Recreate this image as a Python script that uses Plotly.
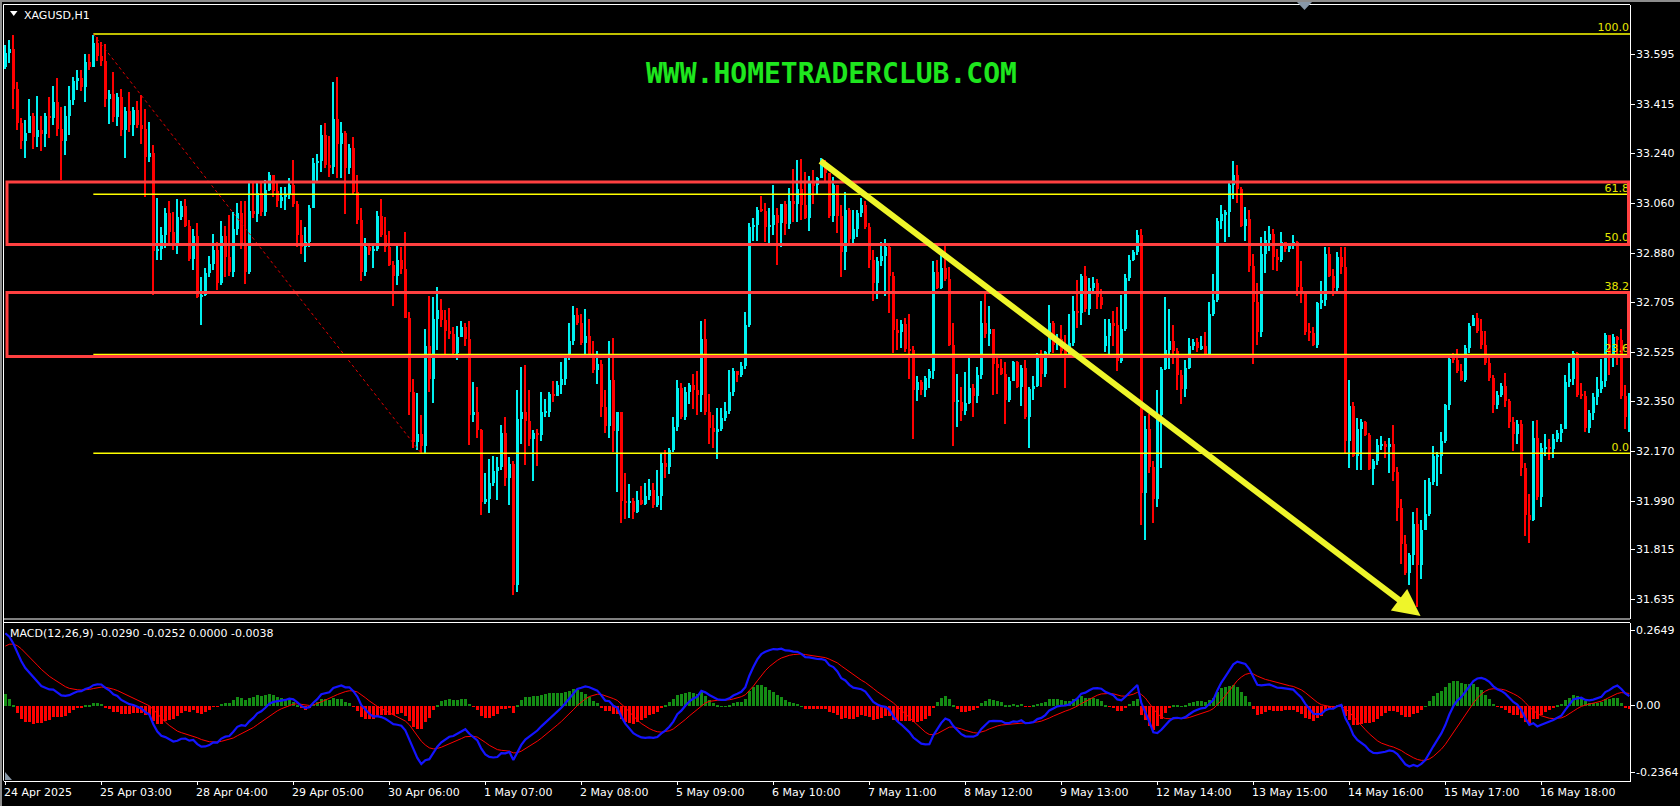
import numpy as np
import plotly.graph_objects as go

# ---- hourly XAGUSD candles (bar 0 = 24 Apr 2025, one bar per trading hour) ----
closes = [
    33.603, 33.617, 33.472, 33.352, 33.286, 33.317, 33.375, 33.300, 33.326, 33.310,
    33.378, 33.370, 33.428, 33.330, 33.288, 33.378, 33.434, 33.503, 33.513, 33.479,
    33.571, 33.552, 33.640, 33.593, 33.575, 33.437, 33.455, 33.373, 33.444, 33.327,
    33.393, 33.345, 33.398, 33.345, 33.331, 33.230, 33.244, 32.893, 32.900, 32.948,
    33.027, 32.958, 32.916, 33.014, 33.054, 32.980, 32.862, 32.945, 32.727, 32.734,
    32.813, 32.845, 32.895, 32.776, 32.945, 32.870, 32.817, 32.969, 33.028, 32.920,
    32.817, 33.035, 33.024, 33.100, 33.030, 33.110, 33.166, 33.106, 33.072, 33.086,
    33.093, 33.127, 33.060, 32.950, 32.907, 32.923, 33.045, 33.207, 33.215, 33.309,
    33.199, 33.193, 33.367, 33.275, 33.316, 33.190, 33.262, 33.102, 33.003, 32.817,
    32.907, 32.893, 32.900, 33.017, 32.948, 32.904, 32.840, 32.800, 32.858, 32.827,
    32.652, 32.386, 32.204, 32.234, 32.190, 32.551, 32.431, 32.645, 32.679, 32.642,
    32.603, 32.592, 32.524, 32.583, 32.617, 32.575, 32.303, 32.314, 32.248, 31.990,
    31.999, 32.059, 32.100, 32.114, 32.238, 32.077, 32.124, 31.691, 32.289, 32.314,
    32.280, 32.217, 32.238, 32.231, 32.311, 32.314, 32.376, 32.370, 32.410, 32.430,
    32.507, 32.569, 32.661, 32.631, 32.562, 32.587, 32.520, 32.462, 32.486, 32.330,
    32.262, 32.427, 32.245, 32.311, 31.994, 31.986, 31.994, 31.953, 31.997, 31.980,
    32.010, 32.031, 31.977, 32.010, 32.128, 32.114, 32.176, 32.259, 32.400, 32.293,
    32.386, 32.410, 32.390, 32.372, 32.576, 32.311, 32.256, 32.242, 32.250, 32.290,
    32.317, 32.386, 32.460, 32.445, 32.479, 32.624, 32.978, 32.983, 33.038, 33.035,
    32.976, 32.985, 33.020, 32.992, 33.061, 32.990, 33.072, 33.060, 33.113, 33.058,
    33.010, 33.134, 33.127, 33.155, 33.199, 33.170, 33.017, 33.127, 33.017, 32.886,
    33.037, 32.934, 32.969, 33.028, 33.055, 32.978, 32.858, 32.776, 32.855, 32.872,
    32.904, 32.803, 32.606, 32.600, 32.628, 32.540, 32.535, 32.393, 32.421, 32.390,
    32.435, 32.459, 32.817, 32.758, 32.830, 32.790, 32.555, 32.349, 32.350, 32.317,
    32.344, 32.400, 32.369, 32.445, 32.631, 32.592, 32.610, 32.486, 32.469, 32.450,
    32.355, 32.424, 32.493, 32.404, 32.472, 32.293, 32.394, 32.407, 32.507, 32.449,
    32.527, 32.631, 32.555, 32.575, 32.532, 32.520, 32.560, 32.675, 32.670, 32.803,
    32.683, 32.757, 32.776, 32.725, 32.697, 32.587, 32.631, 32.624, 32.496, 32.610,
    32.794, 32.858, 32.889, 32.950, 32.022, 32.252, 32.114, 31.999, 32.303, 32.468,
    32.537, 32.569, 32.532, 32.445, 32.394, 32.472, 32.548, 32.565, 32.541, 32.548,
    32.520, 32.665, 32.716, 33.000, 33.024, 33.030, 33.127, 33.166, 33.113, 32.982,
    33.006, 32.838, 32.707, 32.600, 32.879, 32.932, 32.951, 32.868, 32.859, 32.923,
    32.900, 32.914, 32.923, 32.762, 32.742, 32.600, 32.598, 32.555, 32.703, 32.716,
    32.882, 32.803, 32.758, 32.868, 32.835, 32.210, 32.334, 32.155, 32.252, 32.275,
    32.231, 32.107, 32.135, 32.193, 32.197, 32.187, 32.197, 32.096, 31.967, 31.838,
    31.734, 31.798, 31.909, 31.762, 31.890, 31.947, 32.061, 32.154, 32.155, 32.208,
    32.336, 32.503, 32.500, 32.460, 32.427, 32.541, 32.621, 32.650, 32.603, 32.553,
    32.488, 32.436, 32.339, 32.375, 32.407, 32.353, 32.275, 32.232, 32.271, 32.110,
    31.943, 31.923, 32.218, 32.008, 32.182, 32.185, 32.180, 32.214, 32.236, 32.250,
    32.422, 32.432, 32.524, 32.375, 32.370, 32.254, 32.310, 32.367, 32.396, 32.424,
    32.588, 32.517, 32.581, 32.570, 32.370, 32.296, 32.345,
]
highs = [
    33.630, 33.651, 33.667, 33.499, 33.368, 33.361, 33.437, 33.389, 33.447, 33.375,
    33.389, 33.444, 33.483, 33.513, 33.410, 33.414, 33.485, 33.516, 33.541, 33.543,
    33.598, 33.598, 33.669, 33.662, 33.644, 33.637, 33.469, 33.534, 33.458, 33.472,
    33.410, 33.461, 33.410, 33.430, 33.451, 33.403, 33.355, 33.272, 33.083, 32.976,
    33.045, 33.072, 33.031, 33.079, 33.072, 33.079, 33.003, 32.969, 32.992, 32.799,
    32.831, 32.872, 32.952, 32.923, 33.000, 32.982, 33.020, 33.031, 33.065, 33.072,
    33.072, 33.134, 33.134, 33.134, 33.134, 33.148, 33.175, 33.162, 33.134, 33.120,
    33.120, 33.155, 33.217, 33.072, 33.003, 32.976, 33.058, 33.226, 33.240, 33.345,
    33.350, 33.306, 33.499, 33.516, 33.355, 33.323, 33.276, 33.300, 33.166, 33.047,
    32.937, 32.920, 32.920, 33.035, 33.079, 33.014, 32.962, 32.854, 32.920, 32.907,
    32.959, 32.672, 32.431, 32.380, 32.303, 32.610, 32.730, 32.727, 32.762, 32.717,
    32.679, 32.686, 32.617, 32.620, 32.638, 32.631, 32.638, 32.422, 32.404, 32.252,
    32.094, 32.142, 32.156, 32.152, 32.266, 32.294, 32.152, 32.135, 32.390, 32.473,
    32.482, 32.390, 32.248, 32.252, 32.383, 32.358, 32.383, 32.424, 32.424, 32.493,
    32.521, 32.634, 32.693, 32.686, 32.666, 32.683, 32.645, 32.569, 32.532, 32.500,
    32.390, 32.569, 32.579, 32.314, 32.314, 32.094, 32.052, 32.004, 32.027, 32.045,
    32.059, 32.073, 32.059, 32.105, 32.163, 32.176, 32.183, 32.294, 32.427, 32.418,
    32.404, 32.418, 32.449, 32.459, 32.638, 32.645, 32.376, 32.300, 32.328, 32.328,
    32.349, 32.463, 32.470, 32.460, 32.493, 32.672, 32.992, 33.010, 33.051, 33.089,
    33.065, 33.045, 33.127, 33.047, 33.061, 33.070, 33.116, 33.185, 33.217, 33.221,
    33.175, 33.162, 33.182, 33.157, 33.226, 33.220, 33.162, 33.157, 33.127, 33.058,
    33.102, 33.047, 33.038, 33.038, 33.083, 33.072, 32.992, 32.896, 32.868, 32.923,
    32.934, 32.918, 32.817, 32.645, 32.642, 32.652, 32.666, 32.551, 32.441, 32.427,
    32.441, 32.466, 32.854, 32.858, 32.893, 32.920, 32.835, 32.634, 32.449, 32.404,
    32.455, 32.507, 32.413, 32.473, 32.711, 32.739, 32.693, 32.606, 32.510, 32.504,
    32.491, 32.438, 32.496, 32.496, 32.482, 32.500, 32.404, 32.441, 32.524, 32.537,
    32.532, 32.697, 32.638, 32.593, 32.624, 32.590, 32.666, 32.728, 32.786, 32.810,
    32.838, 32.794, 32.797, 32.790, 32.755, 32.645, 32.645, 32.675, 32.689, 32.734,
    32.810, 32.876, 32.896, 32.965, 32.969, 32.298, 32.307, 32.135, 32.390, 32.473,
    32.725, 32.683, 32.624, 32.542, 32.463, 32.500, 32.579, 32.576, 32.579, 32.587,
    32.601, 32.707, 32.807, 33.010, 33.056, 33.038, 33.141, 33.213, 33.199, 33.120,
    33.051, 33.038, 32.882, 32.776, 32.941, 32.962, 32.982, 32.969, 32.900, 32.959,
    32.923, 32.920, 32.948, 32.927, 32.854, 32.748, 32.634, 32.617, 32.707, 32.783,
    32.904, 32.904, 32.827, 32.886, 32.907, 32.904, 32.427, 32.349, 32.290, 32.287,
    32.280, 32.238, 32.142, 32.215, 32.225, 32.207, 32.218, 32.266, 32.114, 32.000,
    31.869, 31.805, 31.954, 31.969, 31.926, 32.068, 32.076, 32.190, 32.168, 32.239,
    32.342, 32.517, 32.524, 32.538, 32.484, 32.555, 32.631, 32.660, 32.669, 32.645,
    32.603, 32.517, 32.446, 32.389, 32.417, 32.453, 32.360, 32.293, 32.285, 32.282,
    32.128, 32.019, 32.279, 32.285, 32.200, 32.232, 32.214, 32.232, 32.246, 32.271,
    32.446, 32.488, 32.531, 32.527, 32.417, 32.389, 32.318, 32.382, 32.439, 32.503,
    32.595, 32.588, 32.592, 32.584, 32.610, 32.410, 32.380,
]
lows = [
    33.547, 33.568, 33.403, 33.327, 33.258, 33.224, 33.327, 33.258, 33.265, 33.251,
    33.265, 33.299, 33.345, 33.306, 33.148, 33.235, 33.309, 33.417, 33.469, 33.465,
    33.428, 33.543, 33.565, 33.575, 33.557, 33.410, 33.348, 33.355, 33.341, 33.306,
    33.224, 33.320, 33.306, 33.334, 33.276, 33.086, 33.210, 32.734, 32.858, 32.858,
    32.903, 32.920, 32.896, 32.879, 33.003, 32.976, 32.854, 32.824, 32.721, 32.624,
    32.730, 32.799, 32.824, 32.752, 32.769, 32.799, 32.800, 32.799, 32.948, 32.900,
    32.772, 32.810, 33.010, 32.996, 33.017, 33.017, 33.107, 33.086, 33.051, 33.045,
    33.038, 33.079, 33.051, 32.907, 32.879, 32.852, 32.907, 33.045, 33.144, 33.175,
    33.189, 33.157, 33.168, 33.155, 33.155, 33.024, 33.168, 33.093, 32.990, 32.785,
    32.803, 32.876, 32.831, 32.893, 32.941, 32.886, 32.838, 32.693, 32.769, 32.810,
    32.652, 32.300, 32.183, 32.176, 32.162, 32.163, 32.383, 32.345, 32.535, 32.617,
    32.521, 32.576, 32.521, 32.500, 32.583, 32.548, 32.193, 32.276, 32.218, 31.942,
    31.981, 31.949, 32.045, 31.997, 32.105, 32.045, 31.977, 31.653, 31.667, 32.197,
    32.121, 32.190, 32.066, 32.118, 32.207, 32.293, 32.293, 32.349, 32.383, 32.376,
    32.411, 32.500, 32.555, 32.624, 32.555, 32.521, 32.510, 32.452, 32.413, 32.293,
    32.238, 32.218, 32.170, 32.025, 31.915, 31.928, 31.931, 31.928, 31.949, 31.977,
    31.977, 31.997, 31.967, 31.972, 31.959, 32.077, 32.091, 32.170, 32.245, 32.287,
    32.284, 32.342, 32.325, 32.300, 32.311, 32.300, 32.197, 32.183, 32.142, 32.243,
    32.280, 32.307, 32.369, 32.420, 32.438, 32.466, 32.617, 32.927, 32.927, 33.031,
    32.923, 32.914, 32.948, 32.841, 32.907, 32.948, 32.969, 32.996, 32.996, 33.003,
    33.006, 32.962, 33.061, 33.093, 33.152, 33.140, 33.010, 32.996, 32.955, 32.799,
    32.824, 32.914, 32.920, 32.941, 33.014, 32.969, 32.831, 32.711, 32.717, 32.838,
    32.728, 32.670, 32.524, 32.537, 32.541, 32.528, 32.431, 32.215, 32.353, 32.372,
    32.366, 32.400, 32.431, 32.755, 32.755, 32.783, 32.551, 32.190, 32.259, 32.280,
    32.303, 32.342, 32.293, 32.344, 32.431, 32.579, 32.548, 32.372, 32.376, 32.445,
    32.270, 32.349, 32.425, 32.400, 32.335, 32.287, 32.183, 32.356, 32.404, 32.404,
    32.438, 32.521, 32.524, 32.535, 32.521, 32.400, 32.524, 32.548, 32.615, 32.624,
    32.672, 32.661, 32.739, 32.683, 32.683, 32.528, 32.521, 32.548, 32.459, 32.490,
    32.604, 32.785, 32.854, 32.876, 31.908, 31.853, 32.094, 31.912, 31.972, 32.110,
    32.463, 32.466, 32.486, 32.390, 32.342, 32.366, 32.466, 32.535, 32.528, 32.535,
    32.507, 32.510, 32.656, 32.707, 32.969, 32.923, 32.941, 33.079, 33.065, 32.976,
    32.927, 32.817, 32.486, 32.555, 32.583, 32.813, 32.890, 32.824, 32.821, 32.852,
    32.886, 32.886, 32.900, 32.730, 32.703, 32.590, 32.569, 32.551, 32.541, 32.683,
    32.693, 32.796, 32.730, 32.748, 32.810, 32.165, 32.110, 32.152, 32.105, 32.105,
    32.225, 32.105, 32.050, 32.121, 32.176, 32.146, 32.094, 32.066, 31.921, 31.766,
    31.727, 31.691, 31.762, 31.613, 31.712, 31.940, 31.940, 32.051, 32.047, 32.090,
    32.200, 32.318, 32.488, 32.453, 32.424, 32.422, 32.524, 32.624, 32.596, 32.538,
    32.481, 32.424, 32.310, 32.325, 32.368, 32.332, 32.254, 32.171, 32.197, 32.083,
    31.866, 31.841, 31.919, 31.997, 31.972, 32.154, 32.140, 32.147, 32.204, 32.204,
    32.254, 32.403, 32.410, 32.368, 32.360, 32.242, 32.236, 32.282, 32.339, 32.382,
    32.403, 32.446, 32.474, 32.481, 32.360, 32.251, 32.240,
]
first_open = 33.554
gap_opens = {275: 32.551}   # Monday 12 May opened below Friday's close

time_labels = ["24 Apr 2025", "25 Apr 03:00", "28 Apr 04:00", "29 Apr 05:00", "30 Apr 06:00",
               "1 May 07:00", "2 May 08:00", "5 May 09:00", "6 May 10:00", "7 May 11:00",
               "8 May 12:00", "9 May 13:00", "12 May 14:00", "13 May 15:00", "14 May 16:00",
               "15 May 17:00", "16 May 18:00"]
bars_per_label = 24

price_ticks = [33.595, 33.415, 33.240, 33.060, 32.880, 32.705, 32.525, 32.350,
               32.170, 31.990, 31.815, 31.635]
macd_ticks = [0.2649, 0.0, -0.2364]
macd_tick_text = ["0.2649", "0.00", "-0.2364"]

# fibonacci retracement drawn from the 25 Apr high to the 30 Apr low
fib_bars = [22, 104]
fib_prices = [33.669, 32.162]
fib_levels = [0.0, 23.6, 38.2, 50.0, 61.8, 100.0]
# red supply zones and the yellow trend arrow (bar, price)
zones = [(33.137, 32.913), (32.740, 32.510)]
arrow_start = (203.4, 33.217)
arrow_end = (353.8, 31.577)
# MACD(12,26,9) state carried in from the bars before the window
macd_seed = {"ema12": 33.52, "ema26": 33.25, "signal": 0.20}

# ---------------------------------------------------------------------------
W, H = 1680, 806
X_LEFT, X_RIGHT = 4, 1630          # pixel edges of the plotting area
BAR0_PX, BAR_PX = 5.33, 4.0        # bar 0 centre, pixel pitch
MAIN_TOP, MAIN_BOT = 4.5, 619.0
SUB_TOP, SUB_BOT = 622.5, 780.7


def px(x):
    return x / W


def py(y):
    return 1 - y / H


def bar_at(x):
    return (x - BAR0_PX) / BAR_PX


n = len(closes)
idx = np.arange(n)
c = np.array(closes)
o = np.concatenate([[first_open], c[:-1]])
for k, v in gap_opens.items():
    o[k] = v
h = np.maximum.reduce([np.array(highs), o, c])
lo = np.minimum.reduce([np.array(lows), o, c])

BULL, BEAR = "#00F0F0", "#FF0000"
col = np.where(c >= o, BULL, BEAR)
body_base = np.minimum(o, c)
body_h = np.maximum(np.abs(c - o), 0.0036)


def ema(seed, values, span):
    k = 2.0 / (span + 1)
    out, prev = [], seed
    for v in values:
        prev = prev + k * (v - prev)
        out.append(prev)
    return np.array(out)


macd = ema(macd_seed["ema12"], c, 12) - ema(macd_seed["ema26"], c, 26)
signal = ema(macd_seed["signal"], macd, 9)
hist = macd - signal

fig = go.Figure()

# fib level captions
fib_span = fib_prices[0] - fib_prices[1]
fib_vals = [fib_prices[1] + fib_span * lv / 100 for lv in fib_levels]
fig.add_trace(go.Scatter(
    x=[bar_at(X_RIGHT - 1)] * len(fib_levels), y=fib_vals, mode="text",
    text=["%.1f" % lv for lv in fib_levels], textposition="top left",
    textfont=dict(family="DejaVu Sans", size=11, color="#E6E600"),
    yaxis="y", hoverinfo="skip"))

# candles: wick + body
fig.add_trace(go.Bar(x=idx, y=h - lo, base=lo, width=0.25,
                     marker=dict(color=col, line=dict(width=0)), yaxis="y", hoverinfo="skip"))
fig.add_trace(go.Bar(x=idx, y=body_h, base=body_base, width=0.75,
                     marker=dict(color=col, line=dict(width=0)), yaxis="y", hoverinfo="skip"))

# MACD panel
fig.add_trace(go.Bar(x=idx, y=hist, width=0.75,
                     marker=dict(color=np.where(hist >= 0, "#148C14", "#FF0000"), line=dict(width=0)),
                     yaxis="y2", hoverinfo="skip"))
fig.add_trace(go.Scatter(x=idx, y=signal, mode="lines", line=dict(color="#FF0000", width=1),
                         yaxis="y2", hoverinfo="skip"))
fig.add_trace(go.Scatter(x=idx, y=macd, mode="lines", line=dict(color="#1414FF", width=2.2),
                         yaxis="y2", hoverinfo="skip"))

label_bars = [i * bars_per_label for i in range(len(time_labels))]
price_top = 33.595 + (54.7 - MAIN_TOP) / 278.2
price_bot = 33.595 - (MAIN_BOT - 54.7) / 278.2
macd_top = (705.9 - SUB_TOP) / 283.0
macd_bot = (705.9 - SUB_BOT) / 283.0

axis_font = dict(family="DejaVu Sans", size=11, color="white")
fig.update_layout(
    width=W, height=H, margin=dict(l=0, r=0, t=0, b=0),
    paper_bgcolor="black", plot_bgcolor="black", showlegend=False,
    barmode="overlay", bargap=0,
    xaxis=dict(domain=[px(X_LEFT), px(X_RIGHT)], range=[bar_at(X_LEFT), bar_at(X_RIGHT)],
               anchor="y2", showgrid=False, zeroline=False, tickmode="array",
               tickvals=label_bars, showticklabels=False, ticks="outside", ticklen=3,
               tickcolor="white", showline=True, linecolor="white", linewidth=1),
    yaxis=dict(domain=[py(MAIN_BOT), py(MAIN_TOP)], range=[price_bot, price_top],
               side="right", anchor="x", showgrid=False, zeroline=False,
               tickmode="array", tickvals=price_ticks, showticklabels=False,
               ticks="outside", ticklen=4, tickcolor="white",
               showline=True, linecolor="white", linewidth=1),
    yaxis2=dict(domain=[py(SUB_BOT), py(SUB_TOP)], range=[macd_bot, macd_top],
                side="right", anchor="x", showgrid=False, zeroline=False,
                tickmode="array", tickvals=macd_ticks, showticklabels=False,
                ticks="outside", ticklen=4, tickcolor="white",
                showline=True, linecolor="white", linewidth=1),
)

shapes = []
# window frame
shapes.append(dict(type="rect", xref="paper", yref="paper", x0=0, x1=1, y0=py(2), y1=1,
                   line=dict(width=0), fillcolor="#8C8C8C", layer="above"))
shapes.append(dict(type="rect", xref="paper", yref="paper", x0=0, x1=px(2), y0=0, y1=1,
                   line=dict(width=0), fillcolor="#8C8C8C", layer="above"))
for y in (MAIN_TOP, MAIN_BOT, SUB_TOP):
    shapes.append(dict(type="line", xref="paper", yref="paper", x0=px(3.5), x1=px(X_RIGHT),
                       y0=py(y), y1=py(y), line=dict(color="white", width=1), layer="above"))
shapes.append(dict(type="line", xref="paper", yref="paper", x0=px(3.5), x1=px(3.5),
                   y0=py(MAIN_TOP), y1=py(SUB_BOT), line=dict(color="white", width=1), layer="above"))
shapes.append(dict(type="path", xref="paper", yref="paper", layer="above",
                   path="M %f,%f L %f,%f L %f,%f Z" % (px(1297), py(2), px(1312), py(2), px(1304.5), py(10)),
                   fillcolor="#8898A8", line=dict(width=0)))
shapes.append(dict(type="path", xref="paper", yref="paper", layer="above",
                   path="M %f,%f L %f,%f L %f,%f Z" % (px(5), py(772), px(5), py(780), px(12), py(780)),
                   fillcolor="#8898A8", line=dict(width=0)))
shapes.append(dict(type="path", xref="paper", yref="paper", layer="above",
                   path="M %f,%f L %f,%f L %f,%f Z" % (px(10), py(11), px(17.5), py(11), px(13.75), py(16)),
                   fillcolor="white", line=dict(width=0)))

# fibonacci lines and its trend line
for v in fib_vals:
    shapes.append(dict(type="line", xref="x", yref="y", x0=fib_bars[0], x1=bar_at(X_RIGHT),
                       y0=v, y1=v, line=dict(color="#FFFF00", width=1.5), layer="above"))
shapes.append(dict(type="line", xref="x", yref="y", x0=fib_bars[0], x1=fib_bars[1],
                   y0=fib_prices[0], y1=fib_prices[1],
                   line=dict(color="#E00000", width=1, dash="dot"), layer="above"))
# red zones, drawn over the fib lines
for top, bot in zones:
    shapes.append(dict(type="rect", xref="x", yref="y", x0=bar_at(7), x1=bar_at(1628.5),
                       y0=bot, y1=top, line=dict(color="#FF4040", width=3), layer="above"))
fig.update_layout(shapes=shapes)

ann = []
ann.append(dict(x=arrow_end[0], y=arrow_end[1], ax=arrow_start[0], ay=arrow_start[1],
                xref="x", yref="y", axref="x", ayref="y", text="", showarrow=True,
                arrowhead=2, arrowsize=0.9, arrowwidth=6, arrowcolor="#EEF52A"))
ann.append(dict(x=px(831), y=py(74), xref="paper", yref="paper", showarrow=False,
                text="<b>WWW.HOMETRADERCLUB.COM</b>", xanchor="center", yanchor="middle",
                font=dict(family="DejaVu Sans Mono", size=28, color="#1EE61E")))
ann.append(dict(x=px(22), y=py(15), xref="paper", yref="paper", showarrow=False,
                text="XAGUSD,H1", xanchor="left", yanchor="middle",
                font=dict(family="DejaVu Sans", size=11, color="white")))
ann.append(dict(x=px(8), y=py(633), xref="paper", yref="paper", showarrow=False,
                text="MACD(12,26,9) -0.0290 -0.0252 0.0000 -0.0038", xanchor="left", yanchor="middle",
                font=dict(family="DejaVu Sans", size=11, color="white")))
for b, lab in zip(label_bars, time_labels):
    ann.append(dict(x=b, y=py(792), xref="x", yref="paper", showarrow=False, text=lab,
                    xanchor="left", yanchor="middle", xshift=-3, font=axis_font))
# right-hand price scale labels
for t in price_ticks:
    ann.append(dict(x=px(1634), y=t, xref="paper", yref="y", showarrow=False, text="%.3f" % t,
                    xanchor="left", yanchor="middle", font=axis_font))
for t, s in zip(macd_ticks, macd_tick_text):
    ann.append(dict(x=px(1634), y=t, xref="paper", yref="y2", showarrow=False, text=s,
                    xanchor="left", yanchor="middle", font=axis_font))
fig.update_layout(annotations=ann)

fig.write_html("out.html", config={"displayModeBar": False},
               post_script="document.body.style.margin='0px';document.body.style.overflow='hidden';")
